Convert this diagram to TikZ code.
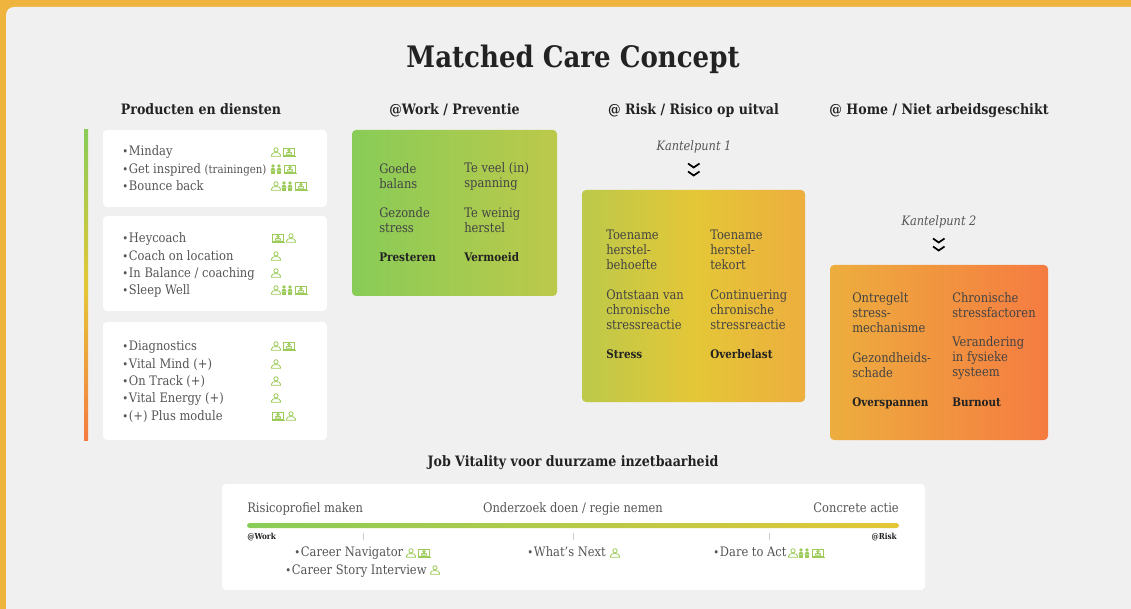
\documentclass[tikz,border=0pt]{standalone}
\usepackage{fontspec}
\setmainfont{DejaVu Serif}[FakeStretch=0.88]
\usetikzlibrary{calc}
\definecolor{pagebg}{HTML}{F0F0F0}
\definecolor{frameor}{HTML}{EEB43E}
\definecolor{cgreen}{HTML}{88CC58}
\definecolor{cmid}{HTML}{BCC94A}
\definecolor{cyellow}{HTML}{E4C737}
\definecolor{camber}{HTML}{EDAE3E}
\definecolor{corange}{HTML}{F57B41}
\definecolor{icong}{HTML}{9CCB5A}
\definecolor{bodyc}{HTML}{555555}
\definecolor{darkc}{HTML}{222222}
\newcommand{\bul}{\makebox[5pt][l]{\fontsize{8.5pt}{8.5pt}\selectfont •}}
\tikzset{
  x=0.75pt,y=-0.75pt,
  whitebox/.style={fill=white,rounded corners=3pt},
  body/.style={inner sep=0pt,text=bodyc,text height=7pt,text depth=2pt,yshift=-0.6pt,font=\fontsize{9.8pt}{11.25pt}\selectfont},
  lbl/.style={body,anchor=west},
  boxlbl/.style={inner sep=0pt,anchor=west,align=left,text=darkc!85,font=\fontsize{9.8pt}{11.25pt}\selectfont},
  strong/.style={inner sep=0pt,anchor=west,text=darkc,text height=7pt,text depth=2pt,yshift=-0.4pt,font=\fontsize{8.85pt}{11.25pt}\selectfont\bfseries},
  head/.style={inner sep=0pt,text height=8pt,text depth=2.5pt,yshift=-1pt,text=darkc,font=\fontsize{10.75pt}{12pt}\selectfont\bfseries},
  kantel/.style={inner sep=0pt,yshift=-0.8pt,text=bodyc,font=\fontsize{9.7pt}{11pt}\selectfont\itshape},
  tiny/.style={inner sep=0pt,text=darkc,font=\fontsize{6.2pt}{7pt}\selectfont\bfseries},
  icon/.style={draw=icong,line width=0.6pt,fill=none},
  chev/.style={draw=black,line width=1.3pt},
  personicon/.pic={
    \draw[icon] (0,-2.2) circle[radius=2.1];
    \draw[icon] (-4.5,4.2) -- (4.5,4.2) -- (4.5,3) .. controls (4.5,1) and (2,0.6) .. (0,0.6) .. controls (-2,0.6) and (-4.5,1) .. (-4.5,3) -- cycle;
  },
  groupicon/.pic={
    \foreach \dx in {-3,3}{
      \fill[icong] (\dx,-3) circle[radius=1.9];
      \fill[icong] (\dx-2.6,1.6) -- (\dx-1.4,-0.8) -- (\dx+1.4,-0.8) -- (\dx+2.6,1.6) -- cycle;
      \fill[icong] (\dx-1.8,2) rectangle (\dx-0.4,4.6);
      \fill[icong] (\dx+0.4,2) rectangle (\dx+1.8,4.6);
    }
  },
  screenicon/.pic={
    \draw[icon] (-5.5,-4) rectangle (5.5,3.4);
    \draw[icon] (-6.5,4.4) -- (6.5,4.4);
    \draw[icon] (0,-1.5) circle[radius=1.3];
    \draw[icon] (-2.6,2.2) -- (2.6,2.2) -- (2.2,0.6) -- (-2.2,0.6) -- cycle;
  },
}
\begin{document}
\begin{tikzpicture}
\useasboundingbox (0,0) rectangle (1131,609);
\fill[frameor] (0,0) rectangle (1131,609);
\fill[pagebg,rounded corners=6pt] (6,7) -- (1140,7) -- (1140,620) -- (6,620) -- cycle;

\node[inner sep=0pt,text=darkc,font=\fontsize{22.2pt}{28pt}\selectfont\bfseries] (title) at (573,59) {Matched Care Concept};

\node[head] (h1) at (201,110) {Producten en diensten};
\node[head] (h2) at (454.5,110) {@Work / Preventie};
\node[head] (h3) at (693.5,110) {@ Risk / Risico op uitval};
\node[head] (h4) at (939,110) {@ Home / Niet arbeidsgeschikt};

% left bar
\shade[top color=cgreen,bottom color=corange,middle color=cyellow] (84,130) rectangle (88,440);

% product boxes
\fill[whitebox] (103,130) rectangle (327,207);
\fill[whitebox] (103,216) rectangle (327,311);
\fill[whitebox] (103,322) rectangle (327,440);

\node[lbl] (p1) at (122,151) {\bul Minday};
\node[lbl] (p2) at (122,169) {\bul Get inspired {\fontsize{8.7pt}{10pt}\selectfont(trainingen)}};
\node[lbl] (p3) at (122,186) {\bul Bounce back};
\node[lbl] (p4) at (122,238) {\bul Heycoach};
\node[lbl] (p5) at (122,256) {\bul Coach on location};
\node[lbl] (p6) at (122,273) {\bul In Balance / coaching};
\node[lbl] (p7) at (122,290) {\bul Sleep Well};
\node[lbl] (p8) at (122,346) {\bul Diagnostics};
\node[lbl] (p9) at (122,364) {\bul Vital Mind (+)};
\node[lbl] (p10) at (122,381) {\bul On Track (+)};
\node[lbl] (p11) at (122,398) {\bul Vital Energy (+)};
\node[lbl] (p12) at (122,416) {\bul (+) Plus module};

\pic at (276,152) {personicon};
\pic at (289,152) {screenicon};
\pic at (276,169) {groupicon};
\pic at (290,169) {screenicon};
\pic at (276,186) {personicon};
\pic at (287,186) {groupicon};
\pic at (301,186) {screenicon};
\pic at (278,238) {screenicon};
\pic at (291,238) {personicon};
\pic at (276,256) {personicon};
\pic at (276,273) {personicon};
\pic at (276,290) {personicon};
\pic at (287,290) {groupicon};
\pic at (301,290) {screenicon};
\pic at (276,346) {personicon};
\pic at (289,346) {screenicon};
\pic at (276,364) {personicon};
\pic at (276,381) {personicon};
\pic at (276,398) {personicon};
\pic at (278,416) {screenicon};
\pic at (291,416) {personicon};

% work box
\shade[left color=cgreen,right color=cmid,rounded corners=3pt] (352,130) rectangle (557,296);
\node[boxlbl] (w1) at (379,176.5) {Goede\\balans};
\node[boxlbl] (w2) at (379,220.5) {Gezonde\\stress};
\node[strong] (w3) at (379,257.5) {Presteren};
\node[boxlbl] (w4) at (464,176.5) {Te veel (in)\\spanning};
\node[boxlbl] (w5) at (464,220.5) {Te weinig\\herstel};
\node[strong] (w6) at (464,257.5) {Vermoeid};

% risk box
\node[kantel] (k1) at (694,145.5) {Kantelpunt 1};
\draw[chev] (688,163.5) -- (693.7,167.5) -- (699.5,163.5);
\draw[chev] (688,171.5) -- (693.7,175.5) -- (699.5,171.5);
\shade[left color=cmid,right color=camber,middle color=cyellow,rounded corners=3pt] (582,190) rectangle (805,402);
\node[boxlbl] (r1) at (606,250) {Toename\\herstel-\\behoefte};
\node[boxlbl] (r2) at (606,310) {Ontstaan van\\chronische\\stressreactie};
\node[strong] (r3) at (606,355) {Stress};
\node[boxlbl] (r4) at (710,250) {Toename\\herstel-\\tekort};
\node[boxlbl] (r5) at (710,310) {Continuering\\chronische\\stressreactie};
\node[strong] (r6) at (710,355) {Overbelast};

% home box
\node[kantel] (k2) at (939,221) {Kantelpunt 2};
\draw[chev] (933,238.5) -- (938.7,242.5) -- (944.5,238.5);
\draw[chev] (933,246.5) -- (938.7,250.5) -- (944.5,246.5);
\shade[left color=camber,right color=corange,rounded corners=3pt] (830,265) rectangle (1048,440);
\node[boxlbl] (o1) at (852,313) {Ontregelt\\stress-\\mechanisme};
\node[boxlbl] (o2) at (852,365.5) {Gezondheids-\\schade};
\node[strong] (o3) at (852,403) {Overspannen};
\node[boxlbl] (o4) at (952,305.5) {Chronische\\stressfactoren};
\node[boxlbl] (o5) at (952,358) {Verandering\\in fysieke\\systeem};
\node[strong] (o6) at (952,403) {Burnout};

% bottom
\node[head] (jv) at (573,461) {Job Vitality voor duurzame inzetbaarheid};
\fill[whitebox] (222,484) rectangle (925,590);
\node[lbl] (b1) at (247,508.5) {Risicoprofiel maken};
\node[body] (b2) at (573,508.5) {Onderzoek doen / regie nemen};
\node[body,anchor=east] (b3) at (899,508.5) {Concrete actie};
\shade[left color=cgreen,right color=cyellow,rounded corners=2pt] (247,523) rectangle (899,528);
\foreach \tx in {363,573,769}{\draw[gray!40,line width=0.6pt] (\tx,533) -- (\tx,540);}
\node[tiny,anchor=west] (b4) at (247,537) {@Work};
\node[tiny,anchor=east] (b5) at (897,537) {@Risk};
\node[lbl] (c1) at (294,552.5) {\bul Career Navigator};
\node[lbl] (c2) at (285,570) {\bul Career Story Interview};
\node[lbl] (c3) at (527,552.5) {\bul What's Next};
\node[lbl] (c4) at (713,552.5) {\bul Dare to Act};
\pic at (411,553) {personicon};
\pic at (424,553) {screenicon};
\pic at (435,570) {personicon};
\pic at (615,553) {personicon};
\pic at (793,553) {personicon};
\pic at (804,553) {groupicon};
\pic at (818,553) {screenicon};
\end{tikzpicture}
\end{document}
